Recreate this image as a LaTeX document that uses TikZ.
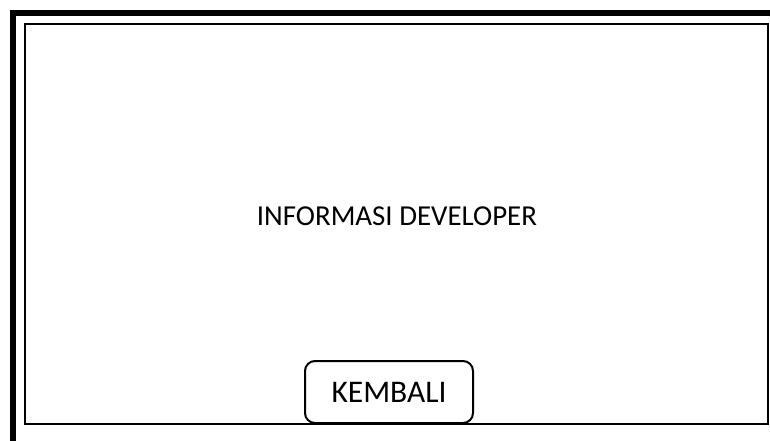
\documentclass[tikz,border=0pt]{standalone}
\usepackage{fontspec}
\setmainfont{Carlito}
\begin{document}
\begin{tikzpicture}[x=1pt,y=-1pt,
  frame/.style={draw=black,line width=6pt},
  panel/.style={draw=black,line width=1.6pt},
  button/.style={draw=black,line width=2pt,rounded corners=10pt,fill=white}]
\useasboundingbox (0,0) rectangle (770,441);
% outer window frame, running off the right and bottom edges
\draw[frame] (13,13) rectangle (790,460);
% inner content panel
\draw[panel] (25,24) rectangle (768,424);
\node[font=\fontsize{28.9}{31}\selectfont] (info) at (397,216) {INFORMASI DEVELOPER};
\draw[button] (305,361) rectangle (473,423);
\node[font=\fontsize{31.5}{34}\selectfont] (back) at (389,392) {KEMBALI};
\end{tikzpicture}
\end{document}
